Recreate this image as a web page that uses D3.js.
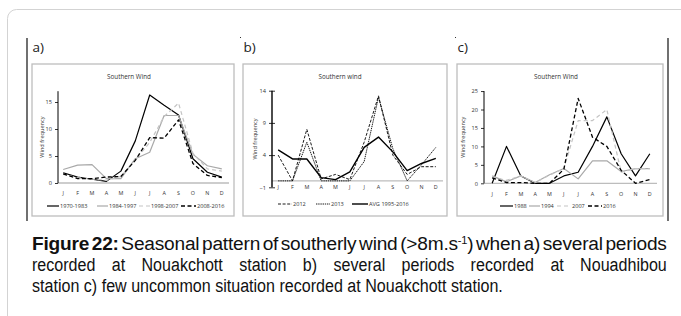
<!DOCTYPE html>
<html><head><meta charset="utf-8">
<script src="https://cdn.jsdelivr.net/npm/d3@7"></script>
<style>html,body{margin:0;padding:0;background:#fff;}svg{display:block;}</style>
</head><body>
<svg id="c" width="681" height="316"></svg>
<script>
// ---------- DATA ----------
const months = ["J","F","M","A","M","J","J","A","S","O","N","D"];

// panel a) Nouakchott, several periods
const aNames = ["1970-1983","1984-1997","1998-2007","2008-2016"];
const a1970 = [1.9,1.1,0.7,0.3,2.2,7.8,16.3,14.4,12.6,4.5,2.0,1.1];
const a1984 = [2.5,3.3,3.4,0.8,0.8,4.5,5.7,12.5,12.5,5.3,3.2,2.6];
const a1998 = [1.6,1.0,0.7,0.5,1.2,4.3,7.5,12.3,14.8,5.5,2.6,2.2];
const a2008 = [1.7,0.8,0.8,1.1,1.2,4.2,8.4,8.3,11.7,3.6,1.4,1.0];
const aTicks = [0,5,10,15];

// panel b) Nouadhibou
const bNames = ["2012","2013","AVG 1995-2016"];
const b2012 = [4.0,0,8.0,0.3,1.0,0.2,6.0,13.2,4.0,1.0,2.2,2.2];
const b2013 = [0,0,6.0,0,0,0,3.0,13.0,5.0,0,2.5,5.2];
const bAvg  = [4.8,3.4,3.4,0.5,0.2,1.4,5.2,6.8,4.5,1.6,2.7,3.5];
const bTicks = [-1,4,9,14];

// panel c) Nouakchott, uncommon years
const cNames = ["1988","1994","2007","2016"];
const c1988 = [0,10,2,0,0,2,3,10,18,8,2,8];
const c1994 = [2,0.4,2,0.2,2.3,4,1.2,6.1,6.1,3.2,4,4];
const c2007 = [1.7,0.8,2,0.2,2.2,4,17,17,20,3,4,4];
const c2016 = [1.5,0.2,0.2,0,0,3.8,23,12.5,10,3.5,0,1];
const cTicks = [0,5,10,15,20,25];

const captionLines = [
  [{t:"Figure 22:", b:true},{t:"  Seasonal pattern of southerly wind (>8m.s"},{t:"-1",sup:true},{t:") when a) several periods"}],
  [{t:"recorded at Nouakchott station b) several periods recorded at Nouadhibou"}],
  [{t:"station c) few uncommon situation recorded at Nouakchott station."}]
];

// ---------- DRAW ----------
const svg = d3.select("#c");
const SMALL = "'Open Sans', 'Liberation Sans', sans-serif";

// page card
svg.append("rect").attr("x",7.5).attr("y",9.5).attr("width",720).attr("height",400)
  .attr("rx",9).attr("fill","none").attr("stroke","#d3d3d3").attr("stroke-width",1);

// black vertical rules
[27,668].forEach(x=>svg.append("line").attr("x1",x).attr("x2",x).attr("y1",38).attr("y2",221)
  .attr("stroke","#111").attr("stroke-width",1.2));
[240,455].forEach(x=>svg.append("rect").attr("x",x).attr("y",37).attr("width",1).attr("height",1).attr("fill","#333"));

const styles = {
  blackSolid:{stroke:"#000",w:1.2,dash:null},
  graySolid:{stroke:"#a9a9a9",w:1.2,dash:null},
  lightDash:{stroke:"#c4c4c4",w:1.2,dash:"4,3"},
  blackDash:{stroke:"#000",w:1.3,dash:"4,2.5"},
  bDash:{stroke:"#000",w:0.9,dash:"3,1.6"},
  bDot:{stroke:"#000",w:0.9,dash:"1.4,0.8"},
  bAvg:{stroke:"#000",w:1.4,dash:null}
};

function panel(p){
  const g = svg.append("g");
  g.append("text").attr("x",p.box[0]+0.5).attr("y",52).text(p.label)
    .attr("font-family","'Open Sans', 'DejaVu Sans', sans-serif").attr("font-size",13.5).attr("fill","#222");
  g.append("rect").attr("x",p.box[0]).attr("y",p.box[1]).attr("width",p.box[2]-p.box[0]).attr("height",p.box[3]-p.box[1])
    .attr("fill","#fff").attr("stroke","#bdbdbd").attr("stroke-width",1.3);
  g.append("text").attr("x",p.titleX).attr("y",79).attr("text-anchor","middle").text(p.title)
    .attr("font-family",SMALL).attr("font-size",6.3).attr("fill","#333");
  const x = d3.scaleBand().domain(d3.range(12)).range(p.xr);
  const y = d3.scaleLinear().domain(p.yd).range(p.yr);
  g.append("line").attr("x1",p.axisX).attr("x2",p.xr[1]).attr("y1",y(0)).attr("y2",y(0))
    .attr("stroke","#bdbdbd").attr("stroke-width",1.3);
  const ya = d3.axisLeft(y).tickValues(p.ticks).tickSize(3).tickPadding(3);
  const ag = g.append("g").attr("transform",`translate(${p.axisX},0)`).call(ya);
  ag.select(".domain").attr("stroke","#000").attr("stroke-width",p.cross?1.4:1).attr("d",`M0,${y(p.yd[1])}V${y(p.yd[0])}`);
  ag.selectAll(".tick line").attr("stroke","#000").attr("stroke-width",0.8);
  if(p.cross) ag.selectAll(".tick line").attr("x1",3).attr("x2",-3);
  ag.selectAll("text").attr("font-family",SMALL).attr("font-size",5.6).attr("fill","#333");
  g.append("text").attr("transform",`translate(${p.ylabX},${(y(p.yd[0])+y(p.yd[1]))/2}) rotate(-90)`)
    .attr("text-anchor","middle").text("Wind frequency")
    .attr("font-family",SMALL).attr("font-size",5.6).attr("fill","#333");
  g.selectAll("text.m").data(months).enter().append("text").attr("class","m")
    .attr("x",(d,i)=>x(i)+x.bandwidth()/2).attr("y",p.monthY).attr("text-anchor","middle").text(d=>d)
    .attr("font-family",SMALL).attr("font-size",5.4).attr("fill","#333");
  const line = d3.line().x((d,i)=>x(i)+x.bandwidth()/2).y(d=>y(d));
  p.series.forEach(s=>{
    const st = styles[s.style];
    g.append("path").datum(s.values).attr("d",line).attr("fill","none")
      .attr("stroke",st.stroke).attr("stroke-width",st.w).attr("stroke-dasharray",st.dash)
      .attr("stroke-linejoin","round");
  });
  p.legend.forEach((L,i)=>{
    const st = styles[p.series[i].style];
    g.append("line").attr("x1",L[0]).attr("x2",L[1]).attr("y1",p.legY).attr("y2",p.legY)
      .attr("stroke",st.stroke).attr("stroke-width",st.w).attr("stroke-dasharray",st.dash);
    g.append("text").attr("x",L[1]+1).attr("y",p.legY+2).text(p.series[i].name)
      .attr("font-family",SMALL).attr("font-size",5.6).attr("fill","#333");
  });
}

panel({label:"a)",box:[32,64,234,216],title:"Southern Wind",titleX:129,
  xr:[56,229],yd:[0,17],yr:[183,183-17*5.4],axisX:58,ticks:aTicks,ylabX:44,monthY:195,legY:206,
  series:[{name:aNames[0],values:a1970,style:"blackSolid"},{name:aNames[1],values:a1984,style:"graySolid"},
          {name:aNames[2],values:a1998,style:"lightDash"},{name:aNames[3],values:a2008,style:"blackDash"}],
  legend:[[47,59],[97,108],[139,150],[181,196]]});

panel({label:"b)",box:[243,64,447,216],title:"Southern wind",titleX:340,cross:true,
  xr:[271,443],yd:[-1,14],yr:[187.3,90.7],axisX:272,ticks:bTicks,ylabX:257,monthY:189,legY:204,
  series:[{name:bNames[0],values:b2012,style:"bDash"},{name:bNames[1],values:b2013,style:"bDot"},
          {name:bNames[2],values:bAvg,style:"bAvg"}],
  legend:[[278,292],[316,330],[352,368]]});

panel({label:"c)",box:[457,64,663,216],title:"Southern Wind",titleX:556,
  xr:[485,657],yd:[0,25],yr:[183.3,183.3-25*3.69],axisX:484,ticks:cTicks,ylabX:465,monthY:196,legY:206,
  series:[{name:cNames[0],values:c1988,style:"blackSolid"},{name:cNames[1],values:c1994,style:"graySolid"},
          {name:cNames[2],values:c2007,style:"lightDash"},{name:cNames[3],values:c2016,style:"blackDash"}],
  legend:[[500,513],[529,540],[557,571],[588,602]]});

// caption
const capX = 32, capW = 635, baselines=[250,271,292], lastW = 471;
const capG = svg.append("g");
function makeLine(parts){
  const t = capG.append("text").attr("x",0).attr("y",0)
    .attr("font-family","'Liberation Sans Narrow', 'Arial Narrow', 'Liberation Sans', Arial, sans-serif")
    .attr("font-size",19).attr("fill","#111");
  parts.forEach(pt=>{
    const ts = t.append("tspan").text(pt.t);
    if(pt.b) ts.attr("font-weight","bold");
    if(pt.sup) ts.attr("font-size",11).attr("baseline-shift","super");
  });
  return t;
}
const texts = captionLines.map(l=>makeLine(l));
const w3 = texts[2].node().getComputedTextLength();
const sx = lastW / w3;
// line 1: tight word spacing, glyphs stretched to fill
texts[0].attr("word-spacing",-2.5).attr("letter-spacing",-0.2);
const w1 = texts[0].node().getComputedTextLength();
texts[0].attr("transform",`translate(${capX},${baselines[0]}) scale(${capW/w1},1)`);
// line 2: justified with word spacing
const w2 = texts[1].node().getComputedTextLength();
const nsp2 = (captionLines[1][0].t.match(/ /g)||[]).length;
texts[1].attr("word-spacing",(capW/sx - w2)/nsp2)
  .attr("transform",`translate(${capX},${baselines[1]}) scale(${sx},1)`);
texts[2].attr("transform",`translate(${capX},${baselines[2]}) scale(${sx},1)`);
</script>
</body></html>
